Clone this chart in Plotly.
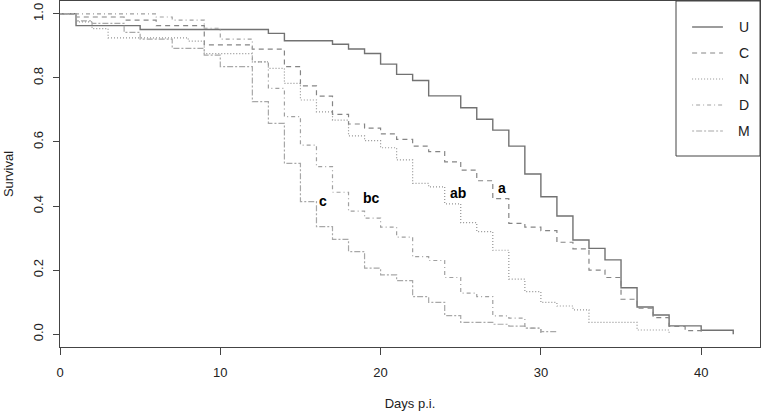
import plotly.graph_objects as go

# Kaplan-Meier survival by group (day of drop, survival after drop)
groups = ["U", "C", "N", "D", "M"]

u_days = [0, 1, 5, 13, 14, 17, 18, 19, 20, 21, 22, 23, 25, 26, 27, 28, 29, 30,
          31, 32, 33, 34, 35, 36, 37, 38, 40, 42]
u_surv = [1.0, 0.963, 0.951, 0.939, 0.916, 0.905, 0.890, 0.876, 0.843, 0.811,
          0.792, 0.744, 0.707, 0.671, 0.637, 0.587, 0.500, 0.429, 0.369, 0.294,
          0.268, 0.232, 0.145, 0.085, 0.060, 0.026, 0.0125, 0.0]

c_days = [0, 1, 4, 6, 9, 12, 14, 15, 16, 17, 18, 19, 20, 21, 22, 23, 24,
          25, 26, 27, 28, 29, 30, 31, 32, 33, 34, 35, 36, 37, 38, 39, 40]
c_surv = [1.0, 0.99, 0.98, 0.963, 0.903, 0.89, 0.835, 0.775, 0.743,
          0.686, 0.656, 0.643, 0.625, 0.608, 0.587, 0.570, 0.538, 0.512, 0.479,
          0.423, 0.346, 0.334, 0.323, 0.287, 0.266, 0.200, 0.177, 0.109, 0.081,
          0.052, 0.024, 0.011, 0.0]

n_days = [0, 1, 2, 3, 8, 9, 12, 13, 14, 15, 16, 17, 18, 19, 20, 21, 22, 23,
          24, 25, 26, 27, 28, 29, 30, 31, 32, 33, 36, 38]
n_surv = [1.0, 0.975, 0.954, 0.925, 0.915, 0.876, 0.85, 0.83, 0.783, 0.731,
          0.694, 0.668, 0.619, 0.604, 0.582, 0.544, 0.471, 0.46, 0.407, 0.348,
          0.32, 0.262, 0.172, 0.133, 0.099, 0.088, 0.076, 0.037, 0.013, 0.0]

d_days = [0, 6, 7, 9, 10, 12, 13, 14, 15, 16, 17, 18, 19, 20, 21, 22, 23, 24,
          25, 26, 27, 28, 29, 30]
d_surv = [1.0, 0.99, 0.98, 0.955, 0.921, 0.85, 0.767, 0.679, 0.59, 0.523,
          0.443, 0.384, 0.362, 0.334, 0.303, 0.242, 0.23, 0.177, 0.128, 0.117,
          0.057, 0.05, 0.019, 0.0]

m_days = [0, 1, 2, 4, 5, 7, 9, 10, 12, 13, 14, 15, 16, 17, 18, 19, 20, 21, 22,
          23, 24, 25, 27, 28, 29, 30, 31]
m_surv = [1.0, 0.978, 0.97, 0.942, 0.921, 0.892, 0.871, 0.835, 0.726, 0.658,
          0.533, 0.414, 0.336, 0.296, 0.258, 0.206, 0.185, 0.167, 0.117, 0.099,
          0.058, 0.037, 0.031, 0.025, 0.019, 0.008, 0.008]

# significance letters
label_text = ["c", "bc", "ab", "a"]
label_day = [16.4, 19.45, 24.85, 27.55]
label_surv = [0.416, 0.424, 0.442, 0.455]

series = {
    "U": (u_days, u_surv),
    "C": (c_days, c_surv),
    "N": (n_days, n_surv),
    "D": (d_days, d_surv),
    "M": (m_days, m_surv),
}
# R-like line types
styles = {
    "U": dict(color="#727272", dash="solid", width=1.4),
    "C": dict(color="#858585", dash="5px,4px", width=1.2),
    "N": dict(color="#939393", dash="1px,2px", width=1.2),
    "D": dict(color="#a0a0a0", dash="1px,3px,4px,3px", width=1.2),
    "M": dict(color="#a8a8a8", dash="2px,2px,6px,2px", width=1.2),
}

fig = go.Figure()
for g in groups:
    x, y = series[g]
    fig.add_trace(go.Scatter(
        x=x, y=y, mode="lines", name=g, line_shape="hv",
        line=styles[g], showlegend=False,
    ))

for t, xd, ys in zip(label_text, label_day, label_surv):
    fig.add_annotation(x=xd, y=ys, text=f"<b>{t}</b>", showarrow=False,
                       xanchor="center", yanchor="middle",
                       font=dict(size=14, color="black", family="Liberation Sans"))

# R-style legend box in the top-right corner of the plot area
fig.add_shape(type="rect", xref="paper", yref="paper", x0=0.88, x1=1.0,
              y0=0.552, y1=1.0, line=dict(color="#444", width=1),
              fillcolor="white", layer="above")
for i, g in enumerate(groups):
    yy = (347 - (27 + 26 * i)) / 346
    fig.add_shape(type="line", xref="paper", yref="paper", x0=0.903, x1=0.947,
                  y0=yy, y1=yy, line=styles[g], layer="above")
    fig.add_annotation(xref="paper", yref="paper", x=0.977, y=yy, text=g,
                       xanchor="center", yanchor="middle", showarrow=False,
                       font=dict(size=14, color="#222"))

axis_common = dict(
    showline=True, linecolor="#444", linewidth=1, mirror=True,
    ticks="outside", tickcolor="#444", showgrid=False, zeroline=False,
    tickfont=dict(size=13, color="#222"), automargin=False,
)
fig.update_xaxes(range=[0, 43.67], tickvals=[0, 10, 20, 30, 40], ticklen=7,
                 ticklabelstandoff=6,
                 title=dict(text="Days p.i.", font=dict(size=13, color="#222"), standoff=22),
                 **axis_common)
fig.update_yaxes(range=[-0.04, 1.04], tickvals=[0, 0.2, 0.4, 0.6, 0.8, 1.0],
                 tickformat=".1f", tickangle=-90, ticklen=6, ticklabelstandoff=5,
                 title=dict(text="Survival", font=dict(size=13, color="#222"), standoff=14),
                 **axis_common)

fig.update_layout(
    width=761, height=411,
    margin=dict(l=60, r=1, t=1, b=64),
    plot_bgcolor="white", paper_bgcolor="white",
    font=dict(family="Liberation Sans", color="#222"),
    showlegend=False,
)

# drop the browser's default page margin so the figure sits at the window corner
fig.write_html("out.html", config={"displayModeBar": False},
               post_script="document.body.style.margin='0';")
